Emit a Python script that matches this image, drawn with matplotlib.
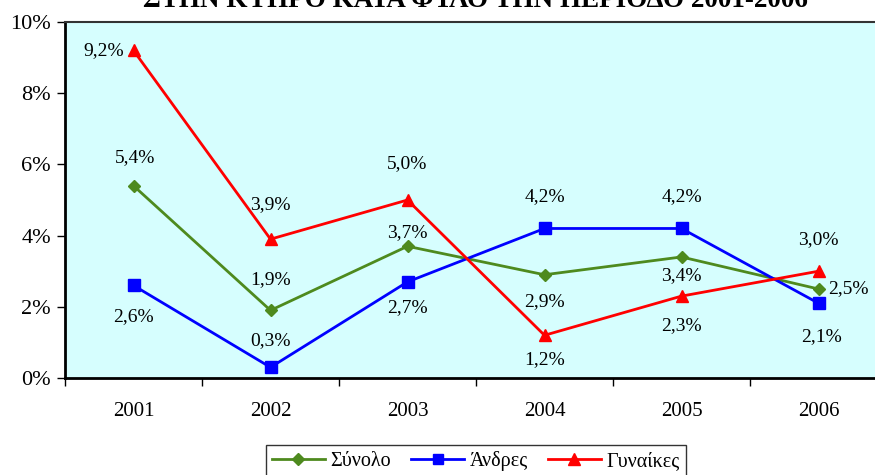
import matplotlib
matplotlib.use("Agg")
import matplotlib.pyplot as plt
from matplotlib.ticker import FuncFormatter
from matplotlib.lines import Line2D

years = ["2001", "2002", "2003", "2004", "2005", "2006"]
total = [5.4, 1.9, 3.7, 2.9, 3.4, 2.5]
men = [2.6, 0.3, 2.7, 4.2, 4.2, 2.1]
women = [9.2, 3.9, 5.0, 1.2, 2.3, 3.0]
series_names = ["Σύνολο", "Άνδρες", "Γυναίκες"]
title = "ΣΤΗΝ ΚΥΠΡΟ ΚΑΤΑ ΦΥΛΟ ΤΗΝ ΠΕΡΙΟΔΟ 2001-2006"

# label offsets in pixels (dx, dy; dy positive = up); alignment code
total_off = [(2, 28, "c"), (0, 31, "c"), (0, 14, "c"), (0, -27, "c"), (0, -19, "c"), (10, 0, "l")]
men_off = [(0, -31, "c"), (0, 27, "c"), (0, -26, "c"), (0, 32, "c"), (0, 32, "c"), (3, -33, "c")]
women_off = [(-9, 0, "r"), (0, 35, "c"), (0, 36, "c"), (0, -24, "c"), (0, -29, "c"), (0, 32, "c")]

plt.rcParams['font.family'] = ['Liberation Serif', 'DejaVu Serif']

fig = plt.figure(figsize=(8.75, 4.75), dpi=100)
W, H = 875, 475
ax = fig.add_axes([65 / W, 1 - 378 / H, (887 - 65) / W, (378 - 22) / H])
ax.set_facecolor("#D6FEFE")

x = list(range(len(years)))
c_tot, c_men, c_wom = "#4E8A1E", "#0000FF", "#FF0000"
ax.plot(x, total, color=c_tot, lw=2, marker="D", ms=6.5, zorder=3, clip_on=False)
ax.plot(x, men, color=c_men, lw=2, marker="s", ms=8, zorder=3, clip_on=False)
ax.plot(x, women, color=c_wom, lw=2, marker="^", ms=8.5, zorder=3, clip_on=False)

def fmt(v):
    return f"{v:.1f}%".replace(".", ",")

ha_map = {"c": "center", "l": "left", "r": "right"}
k = 72 / 100
for vals, offl in [(total, total_off), (men, men_off), (women, women_off)]:
    for xi, v, (dx, dy, a) in zip(x, vals, offl):
        ax.annotate(fmt(v), (xi, v), xytext=(dx * k, dy * k), textcoords="offset points",
                    ha=ha_map[a], va="center", fontsize=14, color="black", zorder=4)

ax.set_xlim(-0.5, len(years) - 0.5)
ax.set_ylim(0, 10)
ax.set_yticks([0, 2, 4, 6, 8, 10])
ax.yaxis.set_major_formatter(FuncFormatter(lambda v, p: f"{v:.0f}%"))
ax.set_xticks(x)
ax.set_xticklabels(years)
ax.set_xticks([i - 0.5 for i in range(len(years) + 1)], minor=True)
ax.tick_params(axis="x", which="major", length=0, pad=17, labelsize=15)
ax.tick_params(axis="x", which="minor", length=6, width=1, direction="out")
ax.tick_params(axis="y", length=6, width=1, direction="out", labelsize=16, pad=4)

for s in ["left", "bottom"]:
    ax.spines[s].set_linewidth(2)
    ax.spines[s].set_color("black")
ax.spines["top"].set_linewidth(1.5)
ax.spines["top"].set_color("#333333")
ax.spines["right"].set_visible(False)

fig.text(475 / W, 1 - 7 / H, title, ha="center", va="baseline",
         fontsize=19.5, fontweight="bold")

handles = [
    Line2D([], [], color=c_tot, lw=2, marker="D", ms=6),
    Line2D([], [], color=c_men, lw=2, marker="s", ms=7),
    Line2D([], [], color=c_wom, lw=2, marker="^", ms=8),
]
leg = fig.legend(handles, series_names, loc="upper center", bbox_to_anchor=(476 / W, 1 - 445 / H),
                 ncol=3, frameon=True, fancybox=False, fontsize=14.5, borderaxespad=0,
                 handlelength=2.6, handletextpad=0.3, columnspacing=1.0,
                 borderpad=0.3, edgecolor="black")
leg.get_frame().set_linewidth(1)

fig.savefig("out.png", dpi=100)
